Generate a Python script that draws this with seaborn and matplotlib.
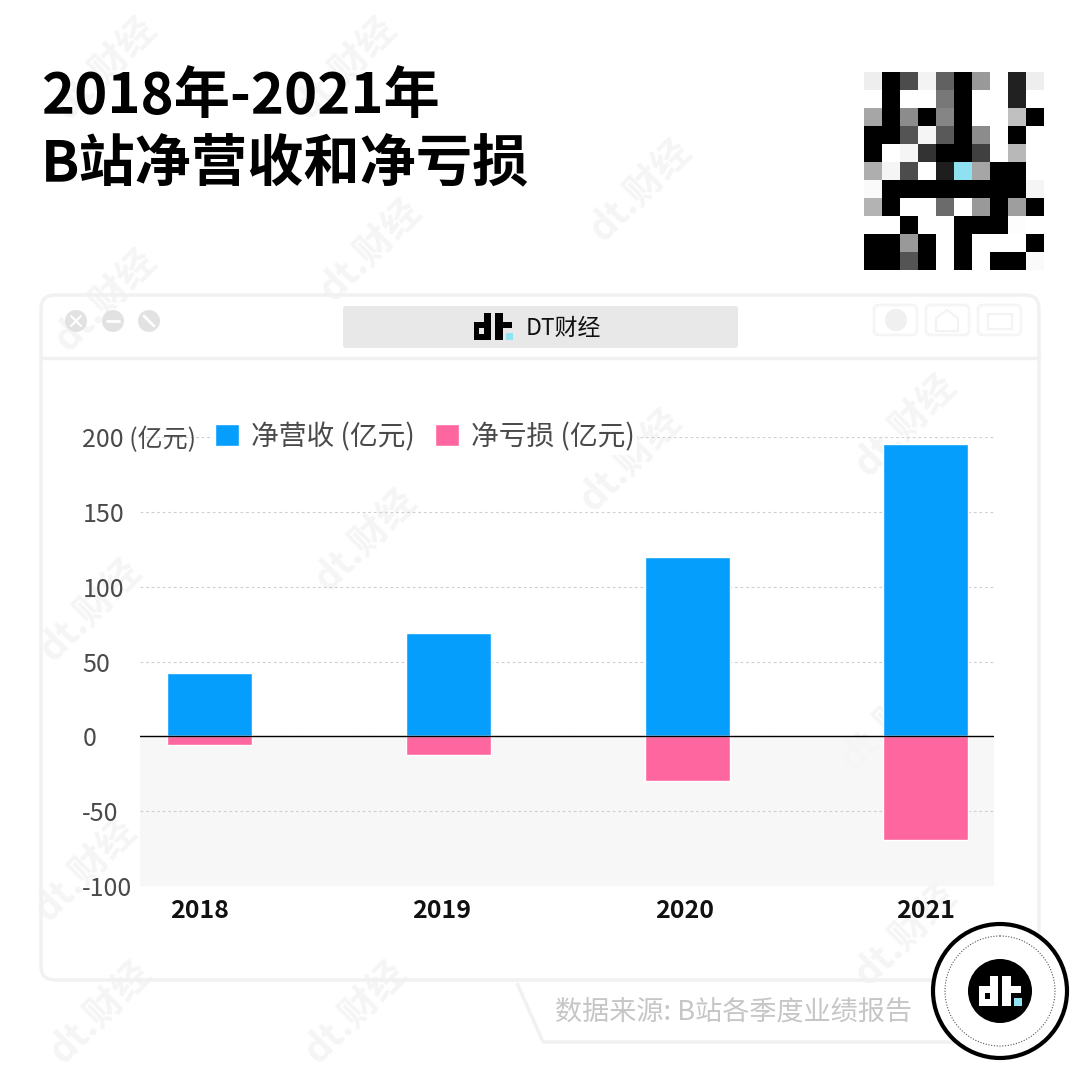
#  import needed libraries
import numpy as np
import pandas as pd
import matplotlib.pyplot as plt
import matplotlib.transforms as mtrans
import seaborn as sn
from matplotlib.patches import Rectangle, Circle, FancyBboxPatch, Polygon

#  chart values (yi yuan)
years = ['2018', '2019', '2020', '2021']
net_revenue = [42, 69, 119.5, 195]
net_loss = [-5.6, -12.5, -30, -69]
series_names = ['净营收 (亿元)', '净亏损 (亿元)']
series_colors = ['#069EFD', '#FD669F']
y_ticks = [-100, -50, 0, 50, 100, 150, 200]
y_tick_labels = ['-100', '-50', '0', '50', '100', '150', '200 (亿元)']

title_lines = ['2018年-2021年', 'B站净营收和净亏损']
brand_name = 'DT财经'
source_note = '数据来源: B站各季度业绩报告'
watermark_text = 'dt.财经'

#  the blurred qr block, gray levels row by row (0 black, 1 white)
qr_cells = [
    [.93, 0, .30, .95, .38, 0, .60, 1, .13, .93],
    [1, 0, 1, 1, .47, 0, 1, 1, .13, 1],
    [.65, 0, .55, 0, .52, 0, 1, 1, .75, 0],
    [0, 0, .33, .96, .35, 0, .55, 1, 0, 1],
    [0, 1, .96, .20, 0, 0, .25, 1, .72, 1],
    [.68, .96, .30, 1, .12, .85, .65, 0, 0, 1],
    [.98, 0, 0, 0, 0, 0, 0, 0, 0, .96],
    [.70, 0, 1, 1, .42, 1, .60, 0, .62, 0],
    [1, 1, 0, 1, 1, 0, 0, 0, .99, 1],
    [0, 0, .60, 0, 1, 0, 1, 1, 1, 0],
    [0, 0, .33, 0, 1, 0, 1, 0, 0, .98],
]

#  faint watermark centres, pixels
watermark_spots = [(105, 68), (345, 68), (640, 190), (370, 250), (105, 300),
                   (630, 460), (905, 425), (365, 540), (90, 610),
                   (890, 720), (85, 870), (905, 935), (355, 1012), (100, 1012)]

#  year labels sit a little left of their bars, pixels
label_shift = [-10, -7, -3, 0]

sn.set_theme(style='white')
plt.rcParams['font.family'] = ['Noto Sans CJK SC', 'DejaVu Sans']
plt.rcParams['axes.unicode_minus'] = False

W, H = 1080, 1084
fig = plt.figure(figsize=(W / 100, H / 100), dpi=100, facecolor='white')


def px_axes(left, top, right, bottom):
    #  axes placed by pixel box of the picture
    return fig.add_axes([left / W, 1 - bottom / H, (right - left) / W, (bottom - top) / H])


def draw_logo(ax, x, y, s, color, hole):
    #  the "dt." mark, built from blocks, s = 1 is the small one in the title bar
    ax.add_patch(Rectangle((x, y + 9 * s), 17 * s, 18 * s, fc=color, lw=0, zorder=6))
    ax.add_patch(Rectangle((x + 10 * s, y), 7 * s, 27 * s, fc=color, lw=0, zorder=6))
    ax.add_patch(Rectangle((x + 5 * s, y + 15 * s), 5 * s, 6 * s, fc=hole, lw=0, zorder=7))
    ax.add_patch(Rectangle((x + 21 * s, y), 8 * s, 27 * s, fc=color, lw=0, zorder=6))
    ax.add_patch(Rectangle((x + 29 * s, y + 9 * s), 9 * s, 6 * s, fc=color, lw=0, zorder=6))
    ax.add_patch(Rectangle((x + 32 * s, y + 20 * s), 7 * s, 7 * s, fc='#8FE3F2', lw=0, zorder=6))


#  background layer in pixel coordinates
bg = fig.add_axes([0, 0, 1, 1])
bg.set_xlim(0, W)
bg.set_ylim(H, 0)
bg.axis('off')

for wx, wy in watermark_spots:
    bg.text(wx, wy, watermark_text, fontsize=27, fontweight='bold', color='#F5F5F5',
            rotation=45, ha='center', va='center', zorder=1)

#  window frame
frame_color = '#F1F1F1'
bg.add_patch(FancyBboxPatch((41, 295), 998, 685, boxstyle='round,pad=0,rounding_size=14',
                            fc='none', ec=frame_color, lw=2.5, zorder=2))
bg.plot([41, 1039], [358, 358], color=frame_color, lw=2.5, zorder=2)
for cx in [76, 113, 149]:
    bg.add_patch(Circle((cx, 321), 11, fc='#E2E2E2', lw=0, zorder=3))
#  marks inside the three round buttons
bg.plot([71, 81], [316, 326], color='white', lw=1.5, zorder=4)
bg.plot([71, 81], [326, 316], color='white', lw=1.5, zorder=4)
bg.plot([107, 119], [321, 321], color='white', lw=2, zorder=4)
bg.plot([144, 154], [316, 326], color='white', lw=2, zorder=4)
bg.add_patch(FancyBboxPatch((343, 306), 395, 42, boxstyle='round,pad=0,rounding_size=3',
                            fc='#E8E8E8', ec='none', zorder=3))
draw_logo(bg, 474, 313, 1, 'black', '#E8E8E8')
bg.text(526, 328, brand_name, fontsize=16.5, color='#111111', ha='left', va='center', zorder=6)
for bx in [874, 926, 978]:
    bg.add_patch(FancyBboxPatch((bx, 305), 43, 30, boxstyle='round,pad=0,rounding_size=5',
                                fc='none', ec='#F5F5F5', lw=2, zorder=3))
bg.add_patch(Circle((896, 320), 11, fc='#F0F0F0', lw=0, zorder=3))
bg.add_patch(Polygon([(936, 331), (936, 318), (947, 310), (958, 318), (958, 331)], closed=True,
                     fc='none', ec='#F3F3F3', lw=1.5, zorder=3))
bg.add_patch(Rectangle((988, 314), 24, 15, fc='none', ec='#F3F3F3', lw=1.5, zorder=3))

#  source ribbon under the window
bg.add_patch(Polygon([(517, 983), (543, 1042), (985, 1042), (985, 983)], closed=False,
                     fc='white', ec=frame_color, lw=2.5, zorder=2))
bg.text(734, 1012, source_note, fontsize=19.5, color='#C6C6C6', ha='center', va='center', zorder=3)

#  round badge
bg.add_patch(Circle((1000, 991), 67, fc='white', ec='black', lw=3, zorder=4))
bg.add_patch(Circle((1000, 991), 55, fc='none', ec='#555555', lw=0.8, ls=(0, (1, 1.5)), zorder=4))
bg.add_patch(Circle((1000, 991), 32, fc='black', lw=0, zorder=5))
draw_logo(bg, 979, 976, 1.1, 'white', 'black')

#  title
bg.text(41, 96, title_lines[0], fontsize=40.5, fontweight='bold', color='black', ha='left', va='center')
bg.text(41, 164, title_lines[1], fontsize=40.5, fontweight='bold', color='black', ha='left', va='center')

#  qr block as a heatmap
ax_qr = px_axes(864, 72, 1044, 270)
sn.heatmap(np.array(qr_cells), ax=ax_qr, cmap='gray', vmin=0, vmax=1, cbar=False,
           xticklabels=False, yticklabels=False)
ax_qr.add_patch(Rectangle((5, 5), 1, 1, fc='#8FE0F0', lw=0))

#  main chart
df = pd.DataFrame({
    'year': years * 2,
    'value': net_revenue + net_loss,
    'series': [series_names[0]] * len(years) + [series_names[1]] * len(years),
})

ax = px_axes(140, 437, 994, 886)
ax.patch.set_alpha(0)
ax.axhspan(-100, 0, color='#F6F6F6', alpha=0.85, lw=0, zorder=0)
sn.barplot(data=df, x='year', y='value', hue='series', hue_order=series_names,
           palette=series_colors, dodge=False, width=0.356, saturation=1, ax=ax, zorder=3)

ax.set_xlim(-0.293, 3.285)
ax.set_ylim(-100, 200)
ax.set_yticks(y_ticks)
ax.set_yticklabels(y_tick_labels, fontsize=18, color='#4A4A4A')
plt.setp(ax.get_yticklabels(), ha='left')
ax.tick_params(axis='y', length=0, pad=41.5)
ax.tick_params(axis='x', length=0, pad=9)
plt.setp(ax.get_xticklabels(), fontsize=18, fontweight='bold', color='#111111')
for lab, shift in zip(ax.get_xticklabels(), label_shift):
    lab.set_transform(lab.get_transform() + mtrans.ScaledTranslation(shift / 100, 0, fig.dpi_scale_trans))
ax.set_xlabel('')
ax.set_ylabel('')

ax.grid(axis='y', color='#CFCFCF', linewidth=0.8, linestyle=(0, (2.5, 2.5)), zorder=1)
ax.set_axisbelow(True)
ax.axhline(0, color='black', linewidth=1, zorder=4)
sn.despine(ax=ax, left=True, bottom=True)

#  legend sits in line with the top tick label
leg = ax.legend(ncol=2, loc='center left', bbox_to_anchor=(0.085, 1.0), frameon=True, facecolor='white',
                edgecolor='none', framealpha=1, fontsize=20, handlelength=0.85, handleheight=0.85,
                handletextpad=0.42, columnspacing=0.75, borderpad=0.1, borderaxespad=0,
                labelcolor='#4A4A4A')
leg.set_zorder(5)

plt.savefig('out.png', dpi=100)
